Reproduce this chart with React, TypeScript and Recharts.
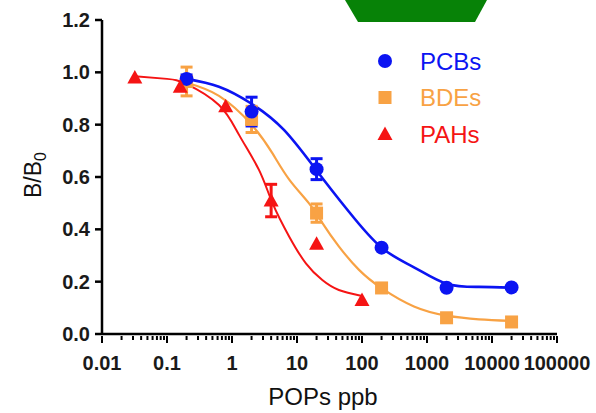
import React from "react";
import {
  ComposedChart,
  Line,
  Scatter,
  ErrorBar,
  XAxis,
  YAxis,
  Legend,
} from "recharts";

const FONT = '"Liberation Sans", Arial, sans-serif';
const BLUE = "#0b14f2";
const ORANGE = "#f8a244";
const RED = "#f51414";

// measured points (x in ppb)
const PCB_X = [0.2, 2, 20, 200, 2000, 20000];
const PCB_Y = [0.975, 0.85, 0.63, 0.33, 0.177, 0.178];
const PCB_ERR = [0.015, 0.055, 0.04, 0, 0, 0];

const BDE_X = [0.2, 2, 20, 200, 2000, 20000];
const BDE_Y = [0.965, 0.82, 0.462, 0.176, 0.062, 0.046];
const BDE_ERR = [0.055, 0.05, 0.035, 0, 0, 0];

const PAH_X = [0.032, 0.16, 0.8, 4, 20, 100];
const PAH_Y = [0.98, 0.945, 0.87, 0.51, 0.345, 0.13];
const PAH_ERR = [0, 0, 0, 0.062, 0, 0];

// fitted curves
const PCB_FIT_X = [0.2, 0.63, 2, 6.3, 20, 63, 200, 630, 2000, 6300, 20000];
const PCB_FIT_Y = [0.975, 0.945, 0.88, 0.78, 0.625, 0.467, 0.33, 0.255, 0.192, 0.18, 0.177];

const BDE_FIT_X = [0.2, 0.63, 2, 4.2, 7.6, 15.2, 24.5, 44, 90, 200, 630, 2000, 6300, 20000];
const BDE_FIT_Y = [0.96, 0.91, 0.8, 0.69, 0.59, 0.5, 0.425, 0.335, 0.245, 0.175, 0.105, 0.07, 0.056, 0.05];

const PAH_FIT_X = [0.032, 0.1, 0.2, 0.63, 1.29, 2.6, 4.2, 7.6, 13.7, 24.5, 44, 100];
const PAH_FIT_Y = [0.985, 0.975, 0.955, 0.875, 0.76, 0.627, 0.5, 0.372, 0.27, 0.206, 0.168, 0.145];

const X_MAJOR = [0.01, 0.1, 1, 10, 100, 1000, 10000, 100000];
const X_MAJOR_LABELS = ["0.01", "0.1", "1", "10", "100", "1000", "10000", "100000"];
const Y_TICKS = [0, 0.2, 0.4, 0.6, 0.8, 1.0, 1.2];

const xTicks: number[] = [];
X_MAJOR.forEach((d, i) => {
  xTicks.push(d);
  if (i < X_MAJOR.length - 1) {
    for (let m = 2; m <= 9; m++) xTicks.push(d * m);
  }
});

const toPoints = (xs: number[], ys: number[], errs?: number[]) =>
  xs.map((x, i) => ({ x, y: ys[i], err: errs ? errs[i] : 0 }));

const pcbPoints = toPoints(PCB_X, PCB_Y, PCB_ERR);
const bdePoints = toPoints(BDE_X, BDE_Y, BDE_ERR);
const pahPoints = toPoints(PAH_X, PAH_Y, PAH_ERR);
const pcbFit = toPoints(PCB_FIT_X, PCB_FIT_Y);
const bdeFit = toPoints(BDE_FIT_X, BDE_FIT_Y);
const pahFit = toPoints(PAH_FIT_X, PAH_FIT_Y);

const SERIES = [
  { name: "PCBs", color: BLUE, shape: "circle" },
  { name: "BDEs", color: ORANGE, shape: "square" },
  { name: "PAHs", color: RED, shape: "triangle" },
];

function Marker({ cx, cy, shape, color }: any) {
  if (shape === "circle") return <circle cx={cx} cy={cy} r={7} fill={color} />;
  if (shape === "square")
    return <rect x={cx - 6.5} y={cy - 6.5} width={13} height={13} fill={color} />;
  return (
    <polygon
      points={`${cx},${cy - 7.5} ${cx - 7.5},${cy + 6} ${cx + 7.5},${cy + 6}`}
      fill={color}
    />
  );
}

function XTick(props: any) {
  const { x, y, payload } = props;
  const v = payload.value;
  const lg = Math.log10(v);
  const idx = X_MAJOR.findIndex((d) => Math.abs(Math.log10(d) - lg) < 1e-6);
  const major = idx >= 0;
  return (
    <g>
      <line x1={x} x2={x} y1={y} y2={y + (major ? 7 : 4)} stroke="#000" strokeWidth={2} />
      {major && (
        <text
          x={x}
          y={y + 34}
          textAnchor="middle"
          fontSize={20}
          fontWeight="bold"
          fontFamily={FONT}
          fill="#1a1a1a"
        >
          {X_MAJOR_LABELS[idx]}
        </text>
      )}
    </g>
  );
}

const renderLegend = () => (
  <svg width={140} height={110}>
    {SERIES.map((s, i) => (
      <g key={s.name}>
        <Marker cx={15} cy={21 + i * 36.5} shape={s.shape} color={s.color} />
        <text x={50} y={21 + i * 36.5} dy="0.36em" fontSize={24} fontFamily={FONT} fill={s.color}>
          {s.name}
        </text>
      </g>
    ))}
  </svg>
);

export default function App() {
  return (
    <div style={{ position: "absolute", left: 0, top: 0, width: 596, height: 413, background: "#fff" }}>
      <ComposedChart
        width={596}
        height={413}
        margin={{ top: 20, right: 39, left: 42, bottom: 39 }}
      >
        <XAxis
          type="number"
          dataKey="x"
          scale="log"
          domain={[0.01, 100000]}
          ticks={xTicks}
          interval={0}
          tick={<XTick />}
          tickSize={0}
          tickLine={false}
          height={40}
          axisLine={{ stroke: "#000", strokeWidth: 2.5 }}
          allowDataOverflow
          label={{
            content: () => (
              <text x={323} y={405} textAnchor="middle" fontSize={24} fontFamily={FONT} fill="#111">
                POPs ppb
              </text>
            ),
          }}
        />
        <YAxis
          type="number"
          dataKey="y"
          domain={[0, 1.2]}
          ticks={Y_TICKS}
          width={60}
          tickFormatter={(v: number) => v.toFixed(1)}
          tick={{ fill: "#1a1a1a", fontSize: 20, fontWeight: "bold", fontFamily: FONT }}
          tickSize={7}
          tickMargin={5}
          tickLine={{ stroke: "#000", strokeWidth: 2.5 }}
          axisLine={{ stroke: "#000", strokeWidth: 2.5 }}
          label={{
            content: () => (
              <text
                x={41}
                y={175}
                transform="rotate(-90, 41, 175)"
                textAnchor="middle"
                fontSize={23}
                fontFamily={FONT}
                fill="#111"
              >
                B/B
                <tspan fontSize={16} dy={5}>
                  0
                </tspan>
              </text>
            ),
          }}
        />
        <Legend
          layout="vertical"
          align="center"
          verticalAlign="middle"
          content={renderLegend}
          wrapperStyle={{ left: 370, top: 40, width: 140, height: 110 }}
        />
        <Line data={pahFit} dataKey="y" type="natural" dot={false} stroke={RED} strokeWidth={2} isAnimationActive={false} />
        <Line data={bdeFit} dataKey="y" type="natural" dot={false} stroke={ORANGE} strokeWidth={2.2} isAnimationActive={false} />
        <Line data={pcbFit} dataKey="y" type="natural" dot={false} stroke={BLUE} strokeWidth={2.6} isAnimationActive={false} />
        <Scatter
          data={bdePoints}
          dataKey="y"
          isAnimationActive={false}
          shape={(p: any) => <Marker cx={p.cx} cy={p.cy} shape="square" color={ORANGE} />}
        >
          <ErrorBar dataKey="err" direction="y" width={6} strokeWidth={3} stroke={ORANGE} />
        </Scatter>
        <Scatter
          data={pcbPoints}
          dataKey="y"
          isAnimationActive={false}
          shape={(p: any) => <Marker cx={p.cx} cy={p.cy} shape="circle" color={BLUE} />}
        >
          <ErrorBar dataKey="err" direction="y" width={6} strokeWidth={3} stroke={BLUE} />
        </Scatter>
        <Scatter
          data={pahPoints}
          dataKey="y"
          isAnimationActive={false}
          shape={(p: any) => <Marker cx={p.cx} cy={p.cy} shape="triangle" color={RED} />}
        >
          <ErrorBar dataKey="err" direction="y" width={6} strokeWidth={3} stroke={RED} />
        </Scatter>
      </ComposedChart>
      <svg width={596} height={30} style={{ position: "absolute", left: 0, top: 0 }}>
        <polygon points="345,0 358,22 475,22 487,0" fill="#078207" />
      </svg>
    </div>
  );
}
